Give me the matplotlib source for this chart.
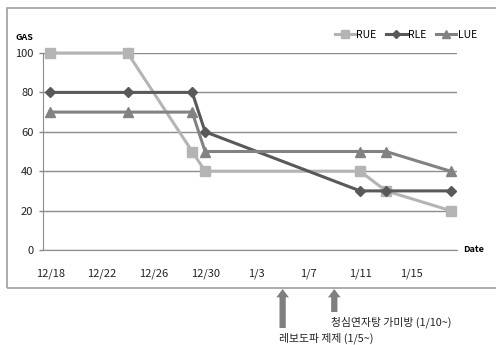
import matplotlib
matplotlib.use("Agg")
import matplotlib.pyplot as plt
import matplotlib.dates as mdates
from matplotlib.patches import Rectangle
import numpy as np
import datetime as dt

plt.rcParams['font.family'] = ['Noto Sans CJK KR', 'DejaVu Sans']

# ---- data ----
dates = ["2014-12-18", "2014-12-24", "2014-12-29", "2014-12-30", "2015-01-11", "2015-01-13", "2015-01-18"]
rue = [100, 100, 50, 40, 40, 30, 20]
rle = [80, 80, 80, 60, 30, 30, 30]
lue = [70, 70, 70, 50, 50, 50, 40]
tick_dates = ["2014-12-18", "2014-12-22", "2014-12-26", "2014-12-30", "2015-01-03", "2015-01-07", "2015-01-11", "2015-01-15"]
tick_labels = ["12/18", "12/22", "12/26", "12/30", "1/3", "1/7", "1/11", "1/15"]
y_ticks = [0, 20, 40, 60, 80, 100]
event_dates = ["2015-01-05", "2015-01-09"]
event_labels = ["레보도파 제제 (1/5~)", "청심연자탕 가미방 (1/10~)"]

W, H = 496, 345
fig = plt.figure(figsize=(W / 100, H / 100), dpi=100)
ax = fig.add_axes([43 / W, 95 / H, (457 - 43) / W, (250 - 53) / H])

x = mdates.date2num([dt.datetime.fromisoformat(d) for d in dates])
c_rue, c_rle, c_lue = "#b4b4b4", "#595959", "#828282"
ax.plot(x, rue, color=c_rue, lw=2.2, marker="s", ms=7, label="RUE", zorder=3, clip_on=False)
ax.plot(x, rle, color=c_rle, lw=2.2, marker="D", ms=5, label="RLE", zorder=3, clip_on=False)
ax.plot(x, lue, color=c_lue, lw=2.2, marker="^", ms=7.5, label="LUE", zorder=3, clip_on=False)

x0 = mdates.date2num(dt.datetime.fromisoformat(dates[0]))
ax.set_xlim(x0 - 0.55, x0 + 31.5)
ax.set_ylim(0, 100)

tx = mdates.date2num([dt.datetime.fromisoformat(d) for d in tick_dates])
ax.set_xticks(tx)
ax.set_xticklabels(tick_labels)
ax.set_yticks(y_ticks)
ax.set_yticklabels([str(v) for v in y_ticks])
ax.tick_params(axis="x", length=0, pad=13, labelsize=8, colors="#222222")
ax.tick_params(axis="y", length=3, width=1, color="#888888", pad=4, labelsize=8, labelcolor="#222222")

ax.grid(axis="y", color="#8c8c8c", lw=1)
ax.set_axisbelow(True)
for s in ["top", "right"]:
    ax.spines[s].set_visible(False)
ax.spines["left"].set_color("#8c8c8c")
ax.spines["bottom"].set_color("#8c8c8c")

fig.text(15 / W, 1 - 37 / H, "GAS", fontsize=6.5, fontweight="bold", va="center", ha="left")
fig.text(463 / W, 1 - 250 / H, "Date", fontsize=6.5, fontweight="bold", va="center", ha="left")

ax.legend(loc="center right", bbox_to_anchor=(482 / W, 1 - 35 / H), bbox_transform=fig.transFigure,
          ncol=3, frameon=False, fontsize=7.5, handlelength=2.0, columnspacing=0.9,
          handletextpad=0.1, markerscale=0.85, borderpad=0)

fig.add_artist(Rectangle((7 / W, (H - 288) / H), (505 - 7) / W, (288 - 8) / H, transform=fig.transFigure,
                         fill=False, ec="#a0a0a0", lw=1.2, clip_on=False))

# event arrows below the chart
ex = mdates.date2num([dt.datetime.fromisoformat(d) for d in event_dates])
tails = [H - 328, H - 312]
text_y = [H - 338, H - 322]
text_x = [279, 331]
for xi, ty, lab, tyy, txx in zip(ex, tails, event_labels, text_y, text_x):
    px = ax.transData.transform((xi, 0))[0]
    ax.annotate("", xy=(px, H - 289), xytext=(px, ty), xycoords="figure pixels", textcoords="figure pixels",
                arrowprops=dict(arrowstyle="simple,head_length=0.6,head_width=0.9,tail_width=0.45",
                                mutation_scale=10, fc="#7f7f7f", ec="none", shrinkA=0, shrinkB=0),
                annotation_clip=False)
    fig.text(txx / W, tyy / H, lab, fontsize=7.8, va="center", ha="left", color="#222222")

fig.savefig("out.png", dpi=100)
